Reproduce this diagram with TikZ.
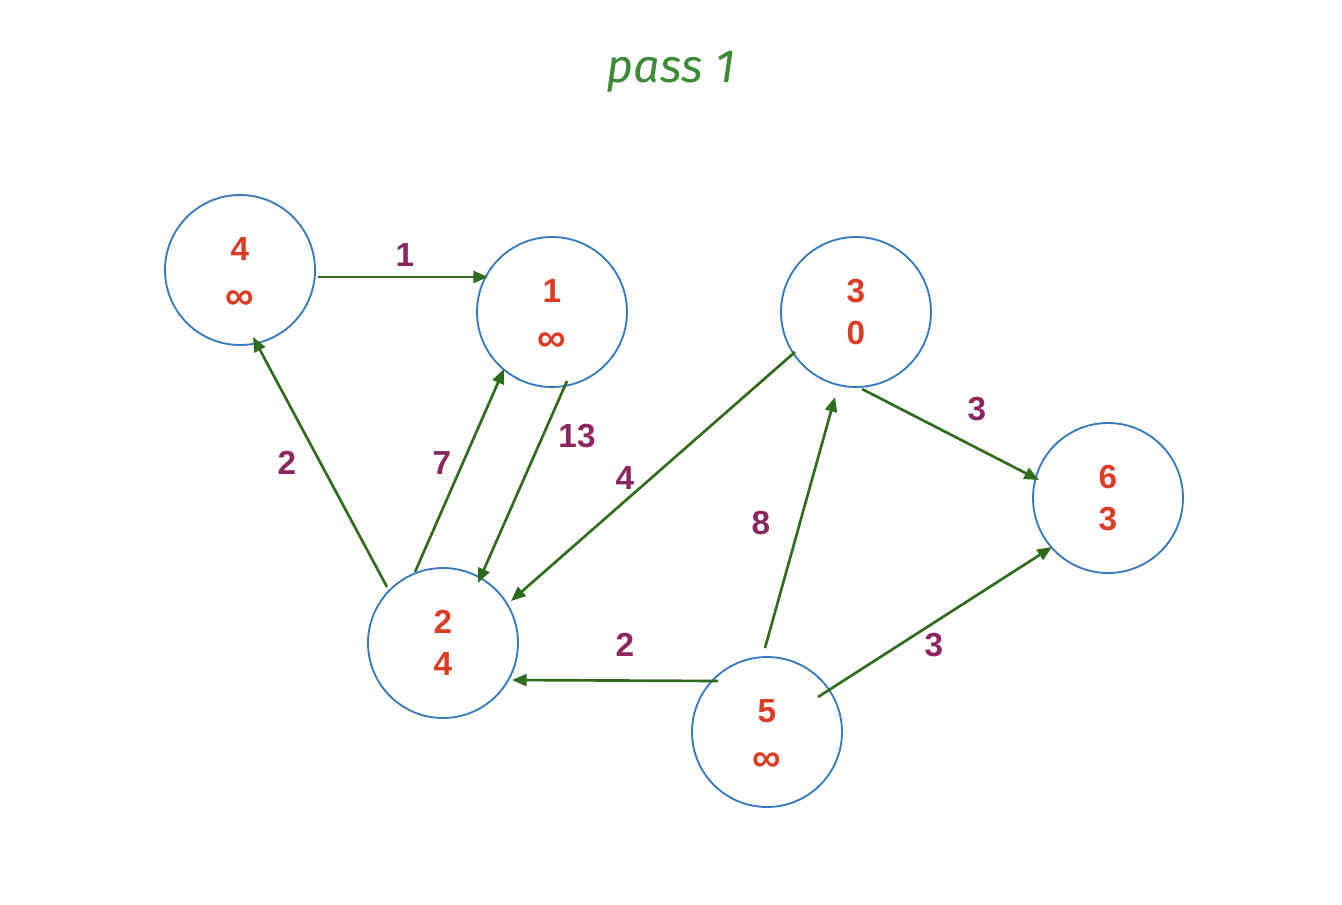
\documentclass[tikz,border=0pt]{standalone}
\usepackage{fontspec}
\setmainfont{Liberation Sans}
\newfontfamily\handfont{Fira Sans}
\usetikzlibrary{arrows.meta}
\definecolor{ringblue}{HTML}{3A7BBF}
\definecolor{edgegreen}{HTML}{2F6C1E}
\definecolor{valred}{HTML}{DC3B26}
\definecolor{wtpurple}{HTML}{8C2660}
\definecolor{titlegreen}{HTML}{3C8A36}
\newcommand{\inftyval}{\raisebox{-5pt}[0pt][0pt]{\fontsize{30}{32}\selectfont ∞}}
\begin{document}
\begin{tikzpicture}[x=0.75pt,y=-0.75pt,
  vertex/.style={circle,draw=ringblue,line width=1.4pt,minimum size=112.5pt,inner sep=0pt,
    text=valred,align=center,font=\bfseries\fontsize{25}{32}\selectfont},
  edge/.style={draw=edgegreen,line width=2pt,-{Triangle[length=11pt,width=9pt]}},
  weight/.style={text=wtpurple,font=\bfseries\fontsize{25}{30}\selectfont}]
\useasboundingbox (0,0) rectangle (1342,904);

\node[text=titlegreen,font=\handfont\itshape\fontsize{35}{40}\selectfont] (title) at (671,72) {pass 1};

% vertices: id on top, current distance below
\node[vertex] (n4) at (240,270) {4\\\inftyval};
\node[vertex] (n1) at (552,312) {1\\\inftyval};
\node[vertex] (n3) at (856,312) {3\\0};
\node[vertex] (n6) at (1108,498) {6\\3};
\node[vertex] (n2) at (443,643) {2\\4};
\node[vertex] (n5) at (767,732) {5\\\inftyval};

% weighted directed edges
\draw[edge] ([shift={(78,7)}]n4.center) -- ([shift={(-64,-35)}]n1.center);
\draw[edge] ([shift={(-56,-56)}]n2.center) -- ([shift={(13,67)}]n4.center);
\draw[edge] ([shift={(-28,-71)}]n2.center) -- ([shift={(-48,57)}]n1.center);
\draw[edge] ([shift={(15,69)}]n1.center) -- ([shift={(35,-60)}]n2.center);
\draw[edge] ([shift={(-61,40)}]n3.center) -- ([shift={(68,-42)}]n2.center);
\draw[edge] ([shift={(6,77)}]n3.center) -- ([shift={(-69,-18)}]n6.center);
\draw[edge] ([shift={(-2,-84)}]n5.center) -- ([shift={(-21,85)}]n3.center);
\draw[edge] ([shift={(-49,-51)}]n5.center) -- ([shift={(69,37)}]n2.center);
\draw[edge] ([shift={(51,-35)}]n5.center) -- ([shift={(-56,49)}]n6.center);

% edge weights
\node[weight] (w41) at (405,255) {1};
\node[weight] (w12) at (577,436) {13};
\node[weight] (w21) at (442,463) {7};
\node[weight] (w24) at (287,463) {2};
\node[weight] (w32) at (625,478) {4};
\node[weight] (w36) at (977,409) {3};
\node[weight] (w53) at (761,523) {8};
\node[weight] (w52) at (625,645) {2};
\node[weight] (w56) at (934,645) {3};
\end{tikzpicture}
\end{document}
